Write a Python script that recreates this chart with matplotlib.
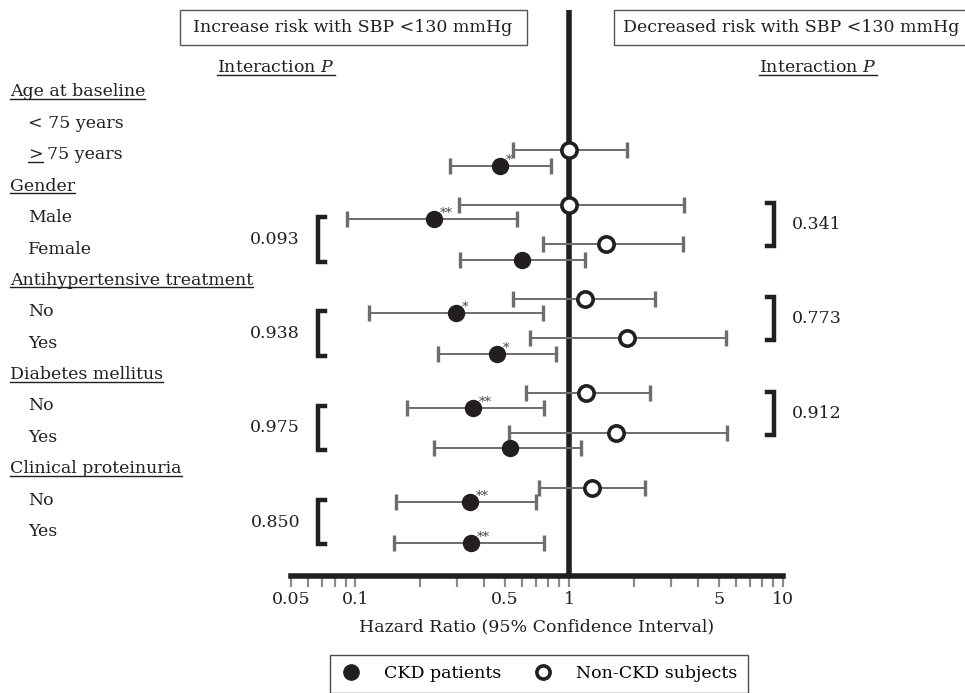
# forest plot: hazard ratio of SBP <130 mmHg by subgroup, CKD vs non-CKD
import numpy as np
import matplotlib.pyplot as plt
from matplotlib.lines import Line2D
from matplotlib.patches import Rectangle
from matplotlib.transforms import blended_transform_factory, IdentityTransform
from matplotlib.ticker import NullFormatter

plt.rcParams['font.family'] = ['DejaVu Serif']
plt.rcParams['mathtext.fontset'] = 'custom'
plt.rcParams['mathtext.rm'] = 'DejaVu Serif'
plt.rcParams['mathtext.it'] = 'DejaVu Serif:italic'

groups = ['Age at baseline', 'Gender', 'Antihypertensive treatment',
          'Diabetes mellitus', 'Clinical proteinuria']
subgroups = [['< 75 years', '75 years'], ['Male', 'Female'], ['No', 'Yes'],
             ['No', 'Yes'], ['No', 'Yes']]

# CKD patients (filled circles)
ckd_hr = [np.nan, 0.475, 0.234, 0.60, 0.296, 0.459, 0.355, 0.53, 0.344, 0.348]
ckd_lo = [np.nan, 0.277, 0.091, 0.307, 0.116, 0.243, 0.174, 0.234, 0.155, 0.152]
ckd_hi = [np.nan, 0.82, 0.569, 1.19, 0.753, 0.869, 0.764, 1.14, 0.701, 0.764]
ckd_star = ['', '*', '**', '', '*', '*', '**', '', '**', '**']

# Non-CKD subjects (open circles)
non_hr = [np.nan, 1.0, 1.0, 1.49, 1.19, 1.86, 1.20, 1.66, 1.28, np.nan]
non_lo = [np.nan, 0.545, 0.306, 0.758, 0.547, 0.657, 0.629, 0.524, 0.724, np.nan]
non_hi = [np.nan, 1.87, 3.45, 3.42, 2.52, 5.43, 2.39, 5.50, 2.27, np.nan]

p_ckd = [None, '0.093', '0.938', '0.975', '0.850']
p_non = [None, '0.341', '0.773', '0.912', None]

xticks = [0.05, 0.1, 0.5, 1, 5, 10]
xticklabels = ['0.05', '0.1', '0.5', '1', '5', '10']

W, H = 965, 693
ink = '#231f20'
fs = 12.5


def fx(px):
    return px / W


def fy(py):
    return 1 - py / H


ROW = 31.4      # pixels per label row
ROW0 = 92       # pixel of first header row

fig = plt.figure(figsize=(W / 100, H / 100), dpi=100)
ax = fig.add_axes([fx(291), fy(576), fx(783) - fx(291), (576 - 10) / H])
ax.set_xscale('log')
ax.set_xlim(0.05, 10)
ax.set_ylim((576 - ROW0) / ROW, (10 - ROW0) / ROW)

# marker rows: offsets from the subgroup label row
open_off = [-0.40, -0.15]
fill_off = [0.05, 0.35]
y_open, y_fill = [], []
for g in range(len(groups)):
    for k in range(2):
        r = 3 * g + 1 + k
        y_open.append(r + open_off[k])
        y_fill.append(r + fill_off[k])
y_open = np.array(y_open)
y_fill = np.array(y_fill)

ax.axvline(1, color=ink, lw=4, zorder=1)

for hr, lo, hi, yy, filled in [(ckd_hr, ckd_lo, ckd_hi, y_fill, True),
                               (non_hr, non_lo, non_hi, y_open, False)]:
    hr = np.array(hr); lo = np.array(lo); hi = np.array(hi)
    m = ~np.isnan(hr)
    _, caps, bars = ax.errorbar(hr[m], yy[m], xerr=[hr[m] - lo[m], hi[m] - hr[m]],
                                fmt='none', ecolor='#6d6d6d', elinewidth=1.4,
                                capsize=5.5, capthick=2.4, zorder=2)
    for c in caps:
        c.set_color(ink)
    if filled:
        ax.plot(hr[m], yy[m], 'o', ms=11.5, mfc=ink, mec=ink, zorder=4)
    else:
        ax.plot(hr[m], yy[m], 'o', ms=11, mfc='white', mec=ink, mew=2.6, zorder=4)

for i, s in enumerate(ckd_star):
    if s:
        ax.annotate(s, (ckd_hr[i], y_fill[i]), xytext=(4, 4), textcoords='offset points',
                    ha='left', va='center', fontsize=9.5, color='#444')

for s in ['top', 'left', 'right']:
    ax.spines[s].set_visible(False)
ax.spines['bottom'].set_linewidth(4)
ax.spines['bottom'].set_color(ink)
ax.set_yticks([])
ax.set_xticks(xticks)
ax.set_xticklabels(xticklabels)
ax.xaxis.set_minor_formatter(NullFormatter())
ax.tick_params(axis='x', which='both', direction='out', length=8, width=1.6,
               color='#8a8a8a', labelcolor=ink, labelsize=fs, pad=3)
ax.set_xlabel('Hazard Ratio (95% Confidence Interval)', fontsize=fs, color=ink,
              labelpad=7)
ax.patch.set_visible(False)

trans = blended_transform_factory(fig.transFigure, ax.transData)
ul = []
for g, name in enumerate(groups):
    t = ax.text(fx(10), 3 * g, name, transform=trans, ha='left', va='center',
                fontsize=fs, color=ink)
    ul.append(t)
    for k, sub in enumerate(subgroups[g]):
        if g == 0 and k == 1:
            t2 = ax.text(fx(28), 3 * g + 1 + k, '>', transform=trans, ha='left',
                         va='center', fontsize=fs, color=ink)
            ul.append(t2)
            ax.text(fx(47), 3 * g + 1 + k, sub, transform=trans, ha='left',
                    va='center', fontsize=fs, color=ink)
        else:
            ax.text(fx(28), 3 * g + 1 + k, sub, transform=trans, ha='left',
                    va='center', fontsize=fs, color=ink)

# interaction brackets
for g in range(len(groups)):
    i0, i1 = 2 * g, 2 * g + 1
    if p_ckd[g]:
        ya, yb = y_fill[i0] - 0.06, y_fill[i1] + 0.06
        ax.plot([fx(325), fx(318), fx(318), fx(325)], [ya, ya, yb, yb], transform=trans,
                color=ink, lw=3.2, clip_on=False, solid_joinstyle='miter')
        ax.text(fx(300), (ya + yb) / 2, p_ckd[g], transform=trans, ha='right',
                va='center', fontsize=fs, color=ink)
    if p_non[g]:
        ya, yb = y_open[i0] - 0.06, y_open[i1] + 0.06
        ax.plot([fx(767), fx(774), fx(774), fx(767)], [ya, ya, yb, yb], transform=trans,
                color=ink, lw=3.2, clip_on=False, solid_joinstyle='miter')
        ax.text(fx(792), (ya + yb) / 2, p_non[g], transform=trans, ha='left',
                va='center', fontsize=fs, color=ink)

# header boxes
fig.add_artist(Rectangle((fx(180), fy(45)), fx(527) - fx(180), 35 / H,
                         transform=fig.transFigure, fc='white', ec='#555', lw=1))
fig.add_artist(Rectangle((fx(614), fy(45)), fx(975) - fx(614), 35 / H,
                         transform=fig.transFigure, fc='white', ec='#555', lw=1))
fig.text(fx(353), fy(28), 'Increase risk with SBP <130 mmHg', ha='center',
         va='center', fontsize=fs, color=ink)
fig.text(fx(791), fy(28), 'Decreased risk with SBP <130 mmHg', ha='center',
         va='center', fontsize=fs, color=ink)
ul.append(fig.text(fx(276), fy(68), 'Interaction $P$', ha='center', va='center',
                   fontsize=fs, color=ink))
ul.append(fig.text(fx(818), fy(68), 'Interaction $P$', ha='center', va='center',
                   fontsize=fs, color=ink))

# legend
handles = [Line2D([], [], ls='', marker='o', ms=11, mfc=ink, mec=ink),
           Line2D([], [], ls='', marker='o', ms=9.5, mfc='white', mec=ink, mew=2.6)]
leg = fig.legend(handles, ['CKD patients', 'Non-CKD subjects'], ncol=2,
                 loc='upper center', bbox_to_anchor=(fx(539), fy(655)),
                 frameon=True, fancybox=False, edgecolor=ink, fontsize=fs,
                 borderaxespad=0, handletextpad=1.3, columnspacing=1.8,
                 handlelength=1.2, borderpad=0.6)
leg.get_frame().set_linewidth(1)

# underlines
fig.canvas.draw()
renderer = fig.canvas.get_renderer()
for t in ul:
    bb = t.get_window_extent(renderer)
    fig.add_artist(Line2D([bb.x0, bb.x1], [bb.y0 + 1.5] * 2, transform=IdentityTransform(),
                          color=ink, lw=1))

fig.savefig('out.png', dpi=100)
